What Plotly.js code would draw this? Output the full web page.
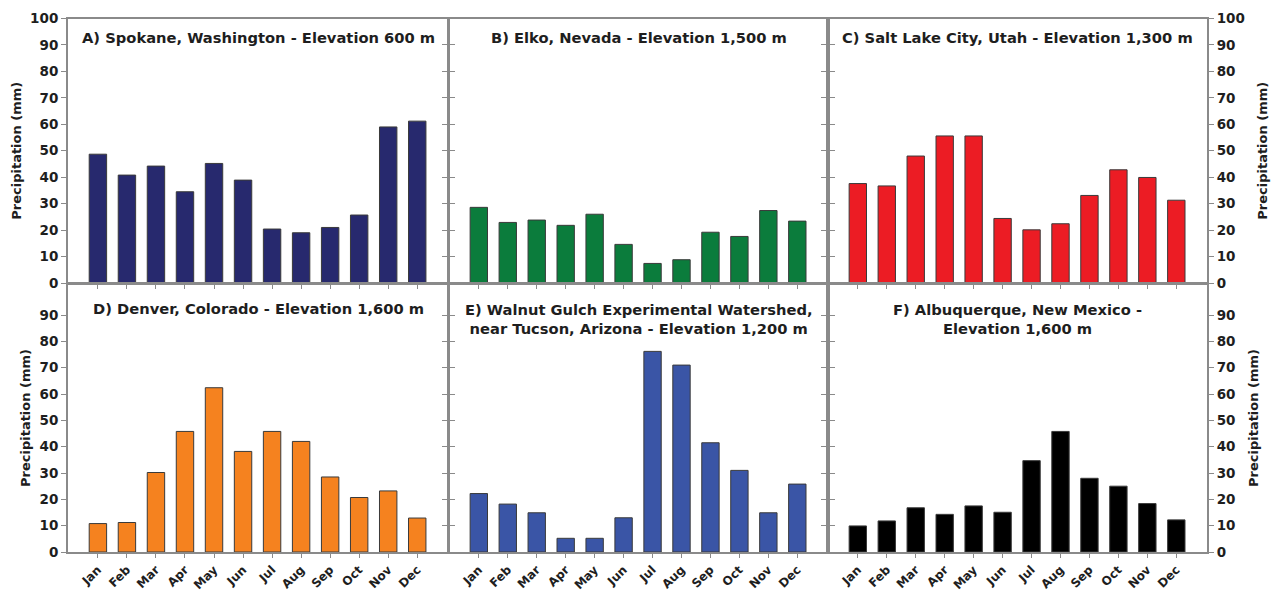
<!DOCTYPE html>
<html>
<head>
<meta charset="utf-8">
<script src="https://cdn.plot.ly/plotly-3.0.1.min.js"></script>
<style>
  html, body { margin: 0; padding: 0; background: #fff; }
  #chart { width: 1277px; height: 592px; }
</style>
</head>
<body>
<div id="chart"></div>
<script>
// Monthly precipitation (mm) at six western US stations
const months = ["Jan","Feb","Mar","Apr","May","Jun","Jul","Aug","Sep","Oct","Nov","Dec"];

const spokane     = [48.7, 40.8, 44.2, 34.5, 45.2, 38.9, 20.4, 19.0, 21.0, 25.7, 59.0, 61.2];
const elko        = [28.6, 22.9, 23.8, 21.8, 26.0, 14.6, 7.4, 8.8, 19.2, 17.6, 27.4, 23.4];
const saltLake    = [37.6, 36.7, 48.0, 55.6, 55.6, 24.4, 20.1, 22.4, 33.1, 42.8, 39.9, 31.3];
const denver      = [10.8, 11.2, 30.2, 45.8, 62.4, 38.2, 45.8, 42.0, 28.5, 20.7, 23.2, 12.9];
const walnutGulch = [22.2, 18.2, 14.9, 5.2, 5.2, 13.0, 76.2, 71.0, 41.5, 31.0, 14.9, 25.8];
const albuquerque = [9.9, 11.8, 16.8, 14.3, 17.5, 15.1, 34.7, 45.8, 28.0, 25.0, 18.4, 12.2];

const panelTitles = [
  "A) Spokane, Washington - Elevation 600 m",
  "B) Elko, Nevada - Elevation 1,500 m",
  "C) Salt Lake City, Utah - Elevation 1,300 m",
  "D) Denver, Colorado - Elevation 1,600 m",
  "E) Walnut Gulch Experimental Watershed,<br>near Tucson, Arizona - Elevation 1,200 m",
  "F) Albuquerque, New Mexico -<br>Elevation 1,600 m"
];
const yTitle = "Precipitation (mm)";
const topTicks = [0, 10, 20, 30, 40, 50, 60, 70, 80, 90, 100];
const bottomTicks = [0, 10, 20, 30, 40, 50, 60, 70, 80, 90];

const series = [spokane, elko, saltLake, denver, walnutGulch, albuquerque];
const colors = ["#27296e", "#0b7c3c", "#ec1c24", "#f5821f", "#3a55a6", "#000000"];

const W = 1277, H = 592;
const colPx = [[68, 448], [449, 828], [828, 1207]];
const rowPx = [[18.5, 283], [284, 552]];
const fx = p => p / W;
const fy = p => 1 - p / H;

const font = "'DejaVu Sans', Verdana, sans-serif";
const textColor = "#1e1e1e";
const frameColor = "#8a8a8a";

const traces = [];
const layout = {
  width: W, height: H,
  margin: { l: 0, r: 0, t: 0, b: 0 },
  paper_bgcolor: "#fff",
  plot_bgcolor: "#fff",
  showlegend: false,
  bargap: 0.4,
  font: { family: font, color: textColor },
  annotations: []
};

series.forEach((vals, i) => {
  const row = Math.floor(i / 3), col = i % 3;
  const n = i + 1;
  const xa = "xaxis" + (n === 1 ? "" : n);
  const ya = "yaxis" + (n === 1 ? "" : n);
  const xr = "x" + (n === 1 ? "" : n);
  const yr = "y" + (n === 1 ? "" : n);

  traces.push({
    type: "bar",
    x: months,
    y: vals,
    xaxis: xr,
    yaxis: yr,
    marker: { color: colors[i], line: { color: "#3a3a3a", width: 1 } },
    hoverinfo: "x+y"
  });

  layout[xa] = {
    domain: [fx(colPx[col][0]), fx(colPx[col][1])],
    anchor: yr,
    type: "category",
    range: [-1.03, 12.06],
    showline: true, linecolor: frameColor, linewidth: 2,
    mirror: true,
    ticks: "outside", ticklen: 4, tickcolor: frameColor, tickwidth: 1,
    showgrid: false, zeroline: false,
    showticklabels: row === 1,
    tickangle: -45,
    tickfont: { family: font, size: 12, color: textColor, weight: "bold" }
  };

  const showLabels = col === 0 || col === 2;
  layout[ya] = {
    domain: [fy(rowPx[row][1]), fy(rowPx[row][0])],
    anchor: xr,
    side: col === 2 ? "right" : "left",
    range: row === 0 ? [0, 100] : [0, 101.8],
    tickvals: row === 0 ? topTicks : bottomTicks,
    showline: true, linecolor: frameColor, linewidth: 2,
    mirror: "ticks",
    ticks: "outside", ticklen: 5, tickcolor: frameColor, tickwidth: 1,
    showgrid: false, zeroline: false,
    showticklabels: showLabels,
    tickfont: { family: font, size: 13.5, color: textColor, weight: "bold" },
    title: showLabels ? {
      text: yTitle,
      font: { family: font, size: 13, color: textColor, weight: "bold" },
      standoff: col === 2 ? 14 : 6
    } : { text: "" }
  };

  const titleY = row === 0 ? 0.93 : (i === 3 ? 0.91 : 0.869);
  layout.annotations.push({
    xref: xr + " domain", yref: yr + " domain",
    x: 0.5, y: titleY,
    xanchor: "center", yanchor: "middle",
    text: panelTitles[i],
    showarrow: false,
    font: { family: font, size: 14.7, color: textColor, weight: "bold" }
  });
});

Plotly.newPlot("chart", traces, layout, { displayModeBar: false, staticPlot: true });
</script>
</body>
</html>
